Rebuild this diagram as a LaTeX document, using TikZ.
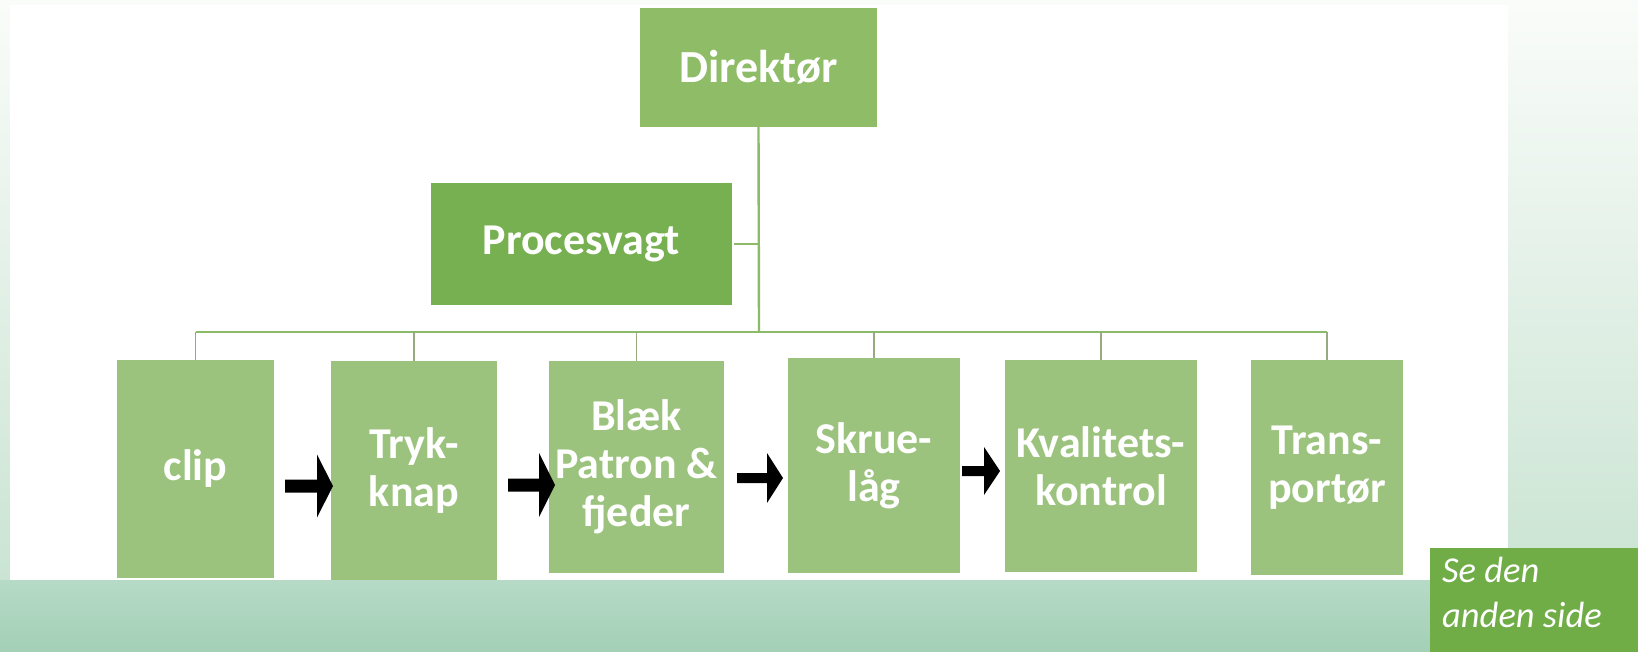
\documentclass[tikz,border=0pt]{standalone}
\usepackage{fontspec}
\setmainfont{Carlito}
\usetikzlibrary{calc}

\definecolor{bgtop}{RGB}{250,252,250}
\definecolor{bgmid}{RGB}{234,243,236}
\definecolor{bgside}{RGB}{196,225,206}
\definecolor{stripTop}{RGB}{182,218,198}
\definecolor{stripBot}{RGB}{163,208,182}
\definecolor{headfill}{RGB}{142,188,103}
\definecolor{guardfill}{RGB}{118,176,80}
\definecolor{unitfill}{RGB}{155,195,125}
\definecolor{notefill}{RGB}{112,173,71}
\definecolor{trunkcol}{RGB}{140,186,104}
\definecolor{dropcol}{RGB}{150,172,128}

% block arrow from #1 to the tip #2 (same height);
% #3 = half the shaft thickness, #4 = half the head height
\newcommand\flowarrow[4]{%
  \fill[black] ($(#1)+(0,-#3)$) -- ($(#2)+(-16,-#3)$) -- ($(#2)+(-16,-#4)$) -- (#2)
    -- ($(#2)+(-16,#4)$) -- ($(#2)+(-16,#3)$) -- ($(#1)+(0,#3)$) -- cycle;}

\begin{document}
\begin{tikzpicture}[x=1pt,y=-1pt,
  box/.style={inner sep=0pt, outer sep=0pt, text=white, align=center,
    font=\bfseries\fontsize{44}{48}\selectfont},
  headbox/.style={box, fill=headfill, font=\bfseries\fontsize{46}{48}\selectfont},
  guardbox/.style={box, fill=guardfill},
  unitbox/.style={box, fill=unitfill},
  trunk/.style={draw=trunkcol, line width=2.4pt},
  busline/.style={draw=trunkcol, line width=2pt},
  dropline/.style={draw=dropcol, line width=1.3pt},
  notetext/.style={inner sep=0pt, text=white, align=left,
    font=\itshape\fontsize{36.5}{45}\selectfont}
]
\useasboundingbox (0,0) rectangle (1638,652);

% backdrop: soft green page with a white panel
\shade[top color=bgtop, middle color=bgmid, bottom color=bgside] (0,0) rectangle (1638,652);
\shade[top color=stripTop, bottom color=stripBot] (0,580) rectangle (1638,652);
\fill[white] (10,5) rectangle (1508,580);

% top of the chart
\node[headbox, minimum width=237pt, minimum height=119pt] (dir) at (758.5,67.5) {Direktør};
\node[guardbox, minimum width=301pt, minimum height=122pt] (proc) at (581.5,244) {Procesvagt};

% production steps
\node[unitbox, minimum width=157pt, minimum height=218pt] (clip)  at (195.5,469)   {clip};
\node[unitbox, minimum width=166pt, minimum height=219pt] (tryk)  at (414,470.5)   {Tryk-\\knap};
\node[unitbox, minimum width=175pt, minimum height=212pt] (blaek) at (636.5,467)   {Blæk\\Patron \&\\fjeder};
\node[unitbox, minimum width=172pt, minimum height=215pt] (skrue) at (874,465.5)   {Skrue-\\låg};
\node[unitbox, minimum width=192pt, minimum height=212pt] (kval)  at (1101,466)    {Kvalitets-\\kontrol};
\node[unitbox, minimum width=152pt, minimum height=215pt] (trans) at (1327,467.5)  {Trans-\\portør};

% organisation lines
\coordinate (hub) at (759,332);
\draw[trunk] (dir.south) -- (hub);
\draw[trunk] ($(proc.east)+(2,0)$) -- (proc.east -| hub);
\draw[busline] (clip.north |- hub) -- (trans.north |- hub);
\foreach \n in {clip,tryk,blaek,skrue,kval,trans}
  \draw[dropline] (\n.north |- hub) -- (\n.north);

% flow between the steps
\coordinate (f1a) at ($(clip.east)+(11,17)$);
\coordinate (f1b) at ($(tryk.west |- f1a)+(2,0)$);
\coordinate (f2a) at ($(tryk.east)+(11,14.5)$);
\coordinate (f2b) at ($(blaek.west |- f2a)+(6,0)$);
\coordinate (f3a) at ($(blaek.east)+(13,11)$);
\coordinate (f3b) at ($(skrue.west |- f3a)+(-5,0)$);
\coordinate (f4a) at ($(skrue.east)+(2,5.5)$);
\coordinate (f4b) at ($(kval.west |- f4a)+(-5,0)$);
\flowarrow{f1a}{f1b}{6.5}{31.5}
\flowarrow{f2a}{f2b}{6.5}{32}
\flowarrow{f3a}{f3b}{5}{25}
\flowarrow{f4a}{f4b}{5}{24}

% note in the corner
\fill[notefill] (1430,548) rectangle (1638,652);
\node[notetext, anchor=north west] (note) at (1442,557) {Se den\\anden side};
\end{tikzpicture}
\end{document}
